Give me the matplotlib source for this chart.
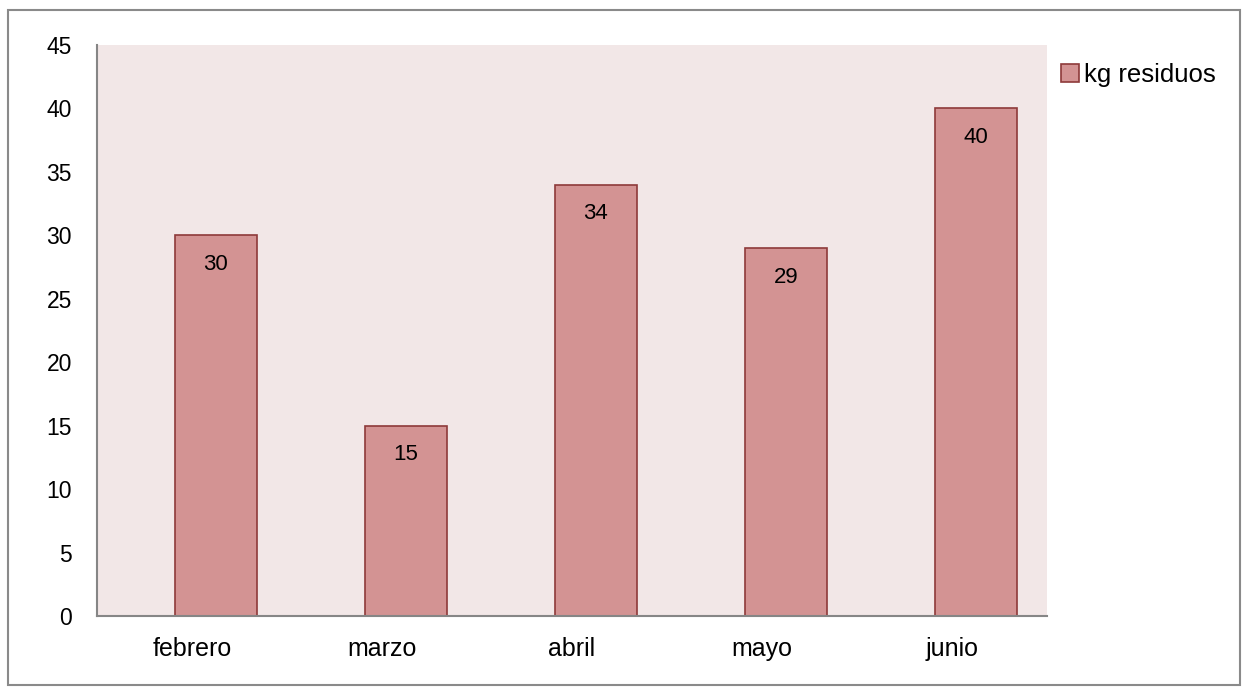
import matplotlib.pyplot as plt
from matplotlib.patches import Rectangle

months = ['febrero', 'marzo', 'abril', 'mayo', 'junio']
kg = [30, 15, 34, 29, 40]
series_name = 'kg residuos'

plt.rcParams['font.family'] = ['Liberation Sans', 'DejaVu Sans']

fig = plt.figure(figsize=(12.46, 6.9), dpi=100)
ax = fig.add_axes([0.0778, 0.1072, 0.7625, 0.8276])
ax.set_facecolor('#f2e7e7')

x = range(len(months))
xb = [i + 0.125 for i in x]
bars = ax.bar(xb, kg, width=0.43, color='#d39393', edgecolor='#8e3a3a',
              linewidth=1.2, label=series_name)

for b, v in zip(bars, kg):
    ax.annotate(str(v), (b.get_x() + b.get_width() / 2, v), xytext=(0, -21),
                textcoords='offset points', ha='center', va='center', fontsize=16)

ax.set_xlim(-0.5, len(months) - 0.5)
ax.set_ylim(0, 45)
ax.set_yticks(range(0, 46, 5))
ax.set_xticks(list(x))
ax.set_xticklabels(months)
ax.tick_params(axis='both', length=0)
ax.tick_params(axis='y', pad=18, labelsize=16.5)
ax.tick_params(axis='x', pad=15, labelsize=18)
for s in ['top', 'right']:
    ax.spines[s].set_visible(False)
for s in ['left', 'bottom']:
    ax.spines[s].set_color('#868686')
    ax.spines[s].set_linewidth(1.5)

leg = ax.legend(loc='upper left', bbox_to_anchor=(1.015, 0.968), frameon=False,
                fontsize=18.5, handlelength=0.68, handleheight=0.68, handletextpad=0.2,
                borderpad=0, borderaxespad=0)

fig.patches.append(Rectangle((8 / 1246, 5 / 690), 1 - 14 / 1246, 1 - 15 / 690,
                             transform=fig.transFigure, fill=False,
                             edgecolor='#8a8a8a', linewidth=1.5))

fig.savefig('out.png', dpi=100)
